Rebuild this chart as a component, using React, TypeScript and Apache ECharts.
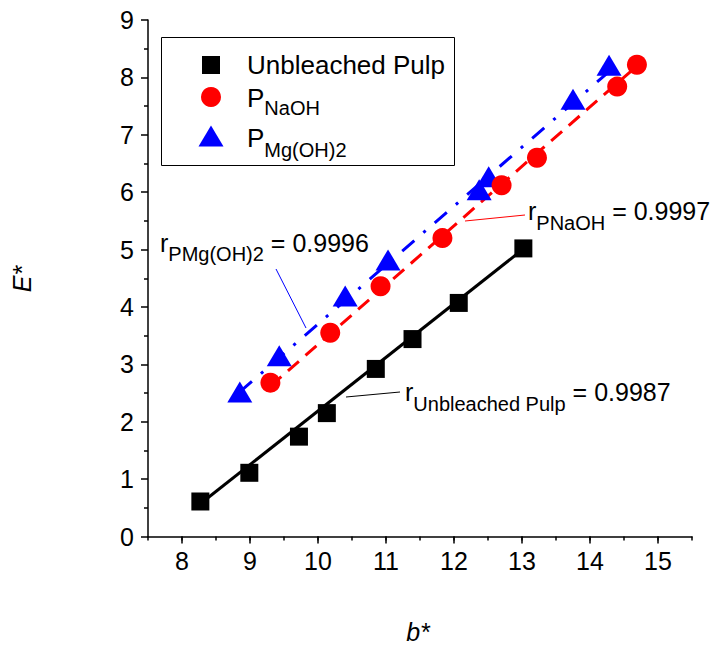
import React, { useEffect, useRef } from "react";
import * as echarts from "echarts";

// ---- data ----
const unbleachedX = [8.27, 8.99, 9.72, 10.13, 10.85, 11.39, 12.07, 13.02];
const unbleachedY = [0.61, 1.11, 1.74, 2.15, 2.92, 3.44, 4.07, 5.02];

const naohX = [9.3, 10.18, 10.92, 11.83, 12.7, 13.22, 14.4, 14.69];
const naohY = [2.68, 3.55, 4.36, 5.2, 6.12, 6.6, 7.84, 8.22];

const mgX = [8.85, 9.43, 10.4, 11.03, 12.37, 12.51, 13.75, 14.28];
const mgY = [2.52, 3.15, 4.19, 4.82, 6.04, 6.27, 7.62, 8.21];

// fitted lines (end points)
const fitUnbleachedX = [8.27, 13.03];
const fitUnbleachedY = [0.57, 5.02];
const fitNaohX = [9.3, 14.7];
const fitNaohY = [2.62, 8.21];
const fitMgX = [8.85, 14.28];
const fitMgY = [2.52, 8.1];

const xMajorTicks = [8, 9, 10, 11, 12, 13, 14, 15];

const FONT = "'Liberation Sans', Arial, Helvetica, sans-serif";

const zip = (xs: number[], ys: number[]) => xs.map((x, i) => [x, ys[i]]);

export default function App() {
  const ref = useRef<HTMLDivElement>(null);
  useEffect(() => {
    const chart = echarts.init(ref.current!, undefined, { renderer: "svg" });
    const axisLineStyle = { color: "#000", width: 1.5 };
    const richLabel = (main: number, sub: number, pad: number) => ({
      m: { fontSize: main, fontFamily: FONT, fill: "#000" },
      s: { fontSize: sub, fontFamily: FONT, fill: "#000", padding: [pad, 0, 0, 0] },
    });
    chart.setOption({
      animation: false,
      backgroundColor: "#fff",
      grid: { left: 148, right: 23, top: 20, bottom: 109.5, containLabel: false },
      xAxis: [
        {
          type: "value",
          min: 7.5,
          max: 15.5,
          interval: 0.5,
          axisLine: { show: true, lineStyle: axisLineStyle },
          axisTick: { show: true, length: 4, lineStyle: axisLineStyle },
          axisLabel: {
            color: "#000",
            fontSize: 25,
            fontFamily: FONT,
            margin: 12,
            formatter: (v: number) => (Number.isInteger(v) ? String(v) : ""),
          },
          splitLine: { show: false },
        },
        {
          type: "value",
          min: 7.5,
          max: 15.5,
          interval: 0.5,
          position: "bottom",
          axisLine: { show: false },
          axisTick: { show: true, length: 7, customValues: xMajorTicks, lineStyle: axisLineStyle },
          axisLabel: { show: false },
          splitLine: { show: false },
        },
      ],
      yAxis: {
        type: "value",
        min: 0,
        max: 9,
        interval: 1,
        axisLine: { show: true, lineStyle: axisLineStyle },
        axisTick: { show: true, length: 7, lineStyle: axisLineStyle },
        minorTick: { show: true, splitNumber: 2, length: 4, lineStyle: axisLineStyle },
        axisLabel: { color: "#000", fontSize: 25, fontFamily: FONT, margin: 14 },
        splitLine: { show: false },
      },
      series: [
        {
          type: "line",
          name: "fit Unbleached",
          data: zip(fitUnbleachedX, fitUnbleachedY),
          showSymbol: false,
          symbol: "none",
          lineStyle: { color: "#000", width: 3 },
          silent: true,
          z: 2,
        },
        {
          type: "line",
          name: "fit NaOH",
          data: zip(fitNaohX, fitNaohY),
          showSymbol: false,
          symbol: "none",
          lineStyle: { color: "#ff0000", width: 3, type: [14.5, 8.8] },
          silent: true,
          z: 2,
        },
        {
          type: "line",
          name: "fit Mg",
          data: zip(fitMgX, fitMgY),
          showSymbol: false,
          symbol: "none",
          lineStyle: { color: "#0000ff", width: 3, type: [16, 12, 3, 12] },
          silent: true,
          z: 2,
        },
        {
          type: "scatter",
          name: "Unbleached Pulp",
          data: zip(unbleachedX, unbleachedY),
          symbol: "rect",
          symbolSize: 18,
          itemStyle: { color: "#000", opacity: 1 },
          silent: true,
          z: 3,
        },
        {
          type: "scatter",
          name: "P Mg(OH)2",
          data: zip(mgX, mgY),
          symbol: "triangle",
          symbolSize: [25, 21],
          itemStyle: { color: "#0000ff", opacity: 1 },
          silent: true,
          z: 3,
        },
        {
          type: "scatter",
          name: "P NaOH",
          data: zip(naohX, naohY),
          symbol: "circle",
          symbolSize: 20,
          itemStyle: { color: "#ff0000", opacity: 1 },
          silent: true,
          z: 4,
        },
      ],
      graphic: [
        // legend box
        {
          type: "rect",
          shape: { x: 161.5, y: 37.5, width: 293, height: 128 },
          style: { fill: "#fff", stroke: "#000", lineWidth: 1 },
          z: 10,
        },
        { type: "rect", shape: { x: 202, y: 56, width: 18, height: 18 }, style: { fill: "#000" }, z: 11 },
        { type: "circle", shape: { cx: 211, cy: 97, r: 10 }, style: { fill: "#ff0000" }, z: 11 },
        {
          type: "polygon",
          shape: { points: [[198.5, 146.5], [223.5, 146.5], [211, 125.5]] },
          style: { fill: "#0000ff" },
          z: 11,
        },
        {
          type: "text",
          x: 247,
          y: 65,
          style: { text: "Unbleached Pulp", fontSize: 26, fontFamily: FONT, fill: "#000", verticalAlign: "middle", align: "left" },
          z: 11,
        },
        {
          type: "text",
          x: 247,
          y: 98,
          style: { text: "{m|P}{s|NaOH}", rich: richLabel(26, 20, 20), verticalAlign: "middle", align: "left" },
          z: 11,
        },
        {
          type: "text",
          x: 247,
          y: 137.5,
          style: { text: "{m|P}{s|Mg(OH)2}", rich: richLabel(26, 20, 24), verticalAlign: "middle", align: "left" },
          z: 11,
        },
        // annotations
        {
          type: "text",
          x: 160,
          y: 242.5,
          style: { text: "{m|r}{s|PMg(OH)2}{m| = 0.9996}", rich: richLabel(25, 20, 22), verticalAlign: "middle", align: "left" },
          z: 11,
        },
        { type: "line", shape: { x1: 276, y1: 269, x2: 306, y2: 328 }, style: { stroke: "#0000ff", lineWidth: 1 }, z: 11 },
        {
          type: "text",
          x: 528,
          y: 210.6,
          style: { text: "{m|r}{s|PNaOH}{m| = 0.9997}", rich: richLabel(25, 20, 24), verticalAlign: "middle", align: "left" },
          z: 11,
        },
        { type: "line", shape: { x1: 465, y1: 221, x2: 525, y2: 215 }, style: { stroke: "#ff0000", lineWidth: 1 }, z: 11 },
        {
          type: "text",
          x: 405,
          y: 391.5,
          style: { text: "{m|r}{s|Unbleached Pulp}{m| = 0.9987}", rich: richLabel(25, 20, 24), verticalAlign: "middle", align: "left" },
          z: 11,
        },
        { type: "line", shape: { x1: 346, y1: 397, x2: 400, y2: 392 }, style: { stroke: "#000", lineWidth: 1 }, z: 11 },
        // axis titles
        {
          type: "text",
          x: 22,
          y: 279,
          rotation: Math.PI / 2,
          style: { text: "E*", fontSize: 25, fontStyle: "italic", fontFamily: FONT, fill: "#000", align: "center", verticalAlign: "middle" },
          z: 11,
        },
        {
          type: "text",
          x: 418,
          y: 632,
          style: { text: "b*", fontSize: 25, fontStyle: "italic", fontFamily: FONT, fill: "#000", align: "center", verticalAlign: "middle" },
          z: 11,
        },
      ],
    });
    return () => chart.dispose();
  }, []);
  return <div ref={ref} style={{ position: "absolute", left: 0, top: 0, width: 715, height: 646 }} />;
}
